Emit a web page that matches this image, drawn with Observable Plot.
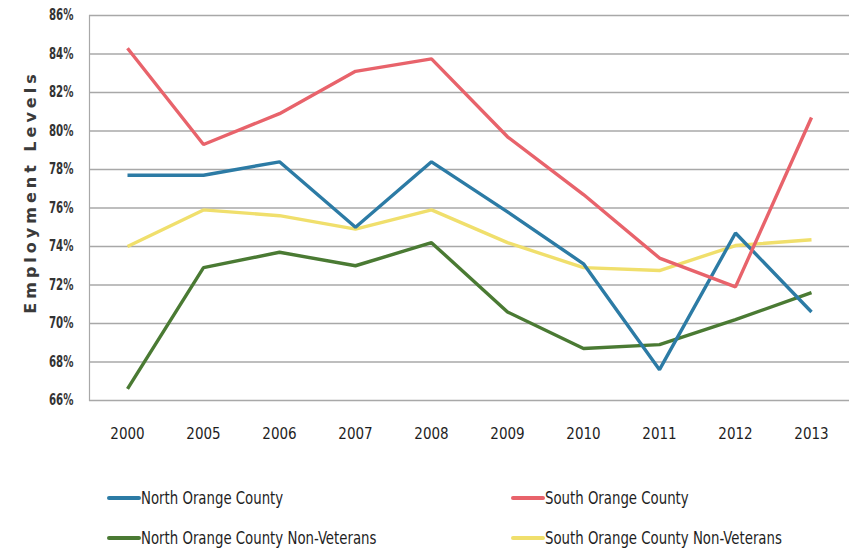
<!DOCTYPE html>
<html>
<head>
<meta charset="utf-8">
<script src="https://cdn.jsdelivr.net/npm/d3@7"></script>
<script src="https://cdn.jsdelivr.net/npm/@observablehq/plot@0.6"></script>
<style>
  html, body { margin: 0; padding: 0; background: #fff; }
  #wrap { position: relative; width: 854px; height: 551px; overflow: hidden; }
  .leg { position: absolute; display: flex; align-items: center; font-family: "DejaVu Sans Condensed", "DejaVu Sans", sans-serif; font-stretch: condensed; font-size: 17px; color: #1e1e1e; white-space: nowrap; }
  .sw { width: 34px; height: 4.5px; border-radius: 2px; flex: none; }
  .lt { display: inline-block; transform: scaleX(0.87); transform-origin: 0 50%; }
  svg text { font-stretch: condensed; }
</style>
</head>
<body>
<div id="wrap"></div>
<script>
const years = ["2000","2005","2006","2007","2008","2009","2010","2011","2012","2013"];
const seriesNames = ["North Orange County","South Orange County","North Orange County Non-Veterans","South Orange County Non-Veterans"];
const seriesColors = ["#2C7BA5","#E8636B","#4A7A33","#F0DF6C"];
const northOC = [77.7, 77.7, 78.4, 75.0, 78.4, 75.8, 73.1, 67.6, 74.7, 70.6];
const southOC = [84.3, 79.3, 80.9, 83.1, 83.75, 79.7, 76.7, 73.4, 71.9, 80.7];
const northNonVet = [66.6, 72.9, 73.7, 73.0, 74.2, 70.6, 68.7, 68.9, 70.2, 71.6];
const southNonVet = [74.0, 75.9, 75.6, 74.9, 75.9, 74.2, 72.9, 72.75, 74.05, 74.35];
const yTicks = [66, 68, 70, 72, 74, 76, 78, 80, 82, 84, 86];

const seriesValues = [northOC, southOC, northNonVet, southNonVet];
const data = [];
seriesNames.forEach((name, i) => {
  years.forEach((yr, j) => data.push({series: name, year: yr, value: seriesValues[i][j]}));
});
const drawOrder = [3, 2, 0, 1];

const cond = '"DejaVu Sans Condensed", "DejaVu Sans", sans-serif';

const chart = Plot.plot({
  width: 854,
  height: 460,
  marginLeft: 89,
  marginRight: 5,
  marginTop: 15,
  marginBottom: 60,
  style: {fontFamily: cond, background: "#fff"},
  x: {type: "point", domain: years, padding: 0.5},
  y: {domain: [66, 86]},
  color: {domain: seriesNames, range: seriesColors},
  marks: [
    Plot.ruleY(yTicks, {stroke: "#a8a8a8", strokeWidth: 1.6}),
    Plot.frame({anchor: "left", stroke: "#a8a8a8", strokeWidth: 1.2}),
    Plot.axisY(yTicks, {tickSize: 0, tickPadding: 16, tickFormat: d => d + "%", fontSize: 15, fontWeight: "bold", fill: "#333", label: null, className: "yt"}),
    Plot.axisX({tickSize: 0, tickPadding: 28, fontSize: 15, fill: "#1e1e1e", label: null}),
    ...drawOrder.map(i => Plot.line(data.filter(d => d.series === seriesNames[i]), {
      x: "year", y: "value", stroke: "series", strokeWidth: 3.4, strokeLinejoin: "miter", strokeLinecap: "butt"
    })),
    Plot.text(["Employment Levels"], {frameAnchor: "left", textAnchor: "middle", dx: -59, dy: -16, rotate: -90, fontSize: 16, fontWeight: "bold", fill: "#3a3a3a", fontFamily: '"DejaVu Sans", sans-serif'})
  ]
});
d3.select(chart).selectAll("text").filter(function() { return this.textContent === "Employment Levels"; })
  .attr("letter-spacing", "4px").style("font-stretch", "normal");
d3.select(chart).selectAll("g.yt text").each(function() {
  const t = d3.select(this);
  const tr = t.attr("transform");
  if (tr) t.attr("transform", tr + " scale(0.76,1)");
});
document.getElementById("wrap").appendChild(chart);

const legPos = [[107, 498], [511, 498], [107, 538], [511, 538]];
const wrap = document.getElementById("wrap");
seriesNames.forEach((name, i) => {
  const el = document.createElement("div");
  el.className = "leg";
  el.style.left = legPos[i][0] + "px";
  el.style.top = (legPos[i][1] - 11) + "px";
  el.style.height = "22px";
  const sw = document.createElement("span");
  sw.className = "sw";
  sw.style.background = seriesColors[i];
  el.appendChild(sw);
  const t = document.createElement("span");
  t.className = "lt";
  t.textContent = name;
  el.appendChild(t);
  wrap.appendChild(el);
});
</script>
</body>
</html>
